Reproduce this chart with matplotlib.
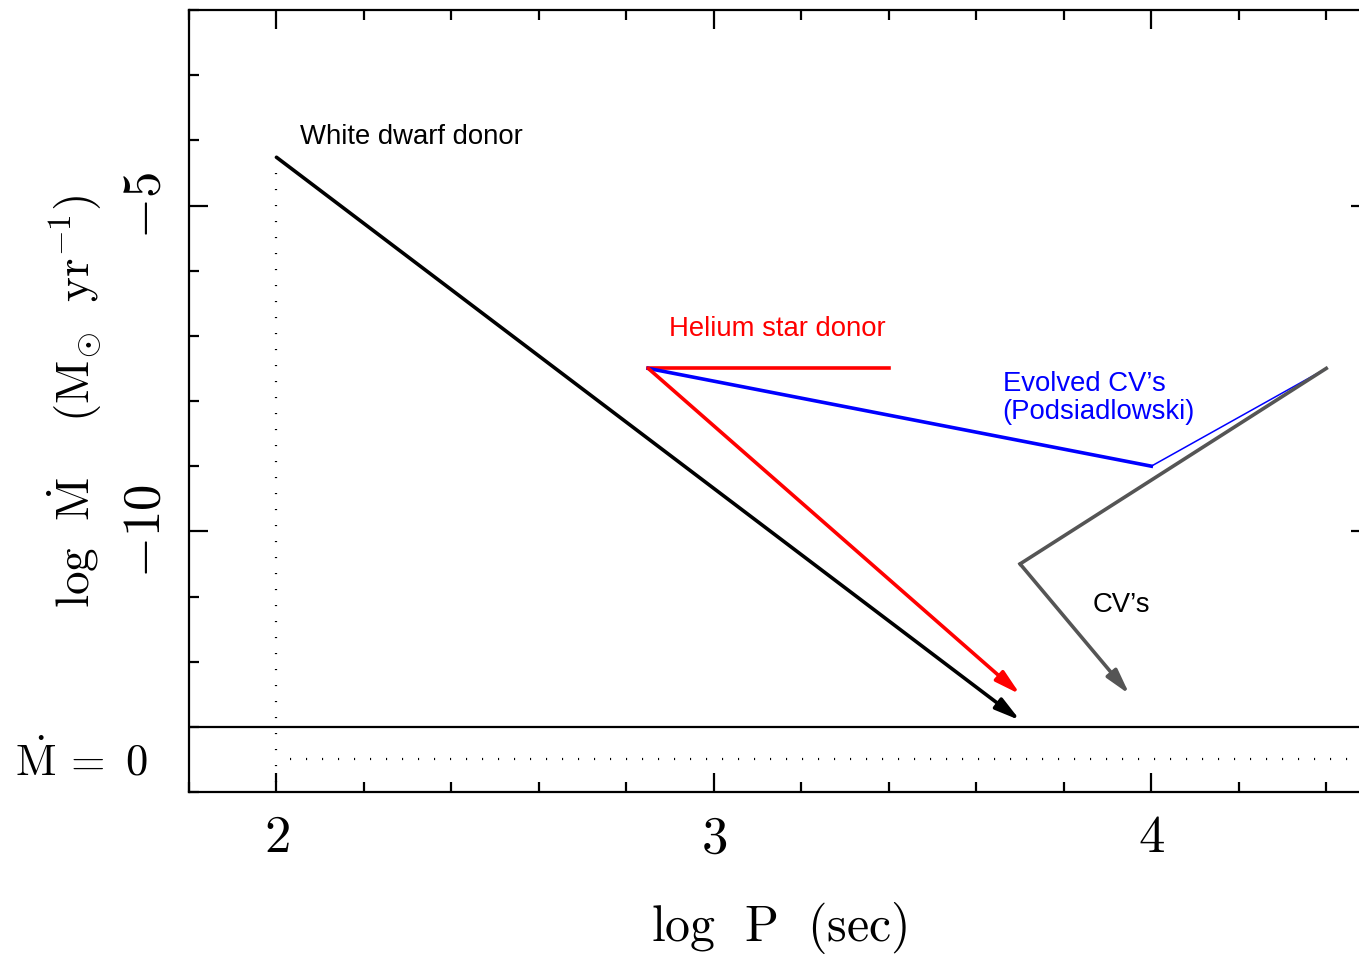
"""
Mdot vs orbital period sketch: evolutionary tracks for white dwarf donors,
helium star donors, evolved CVs and ordinary CVs.
"""

import matplotlib

matplotlib.use("Agg")
import matplotlib.pyplot as plt
from matplotlib.ticker import FixedLocator, MultipleLocator, FuncFormatter

plt.rcParams["mathtext.fontset"] = "cm"

# ----------------------------------------------------------------- dati
WD_P = [2.0, 3.70]
WD_MDOT = [-4.26, -12.9]

HE_FLAT_P = [2.85, 3.40]
HE_FLAT_MDOT = [-7.5, -7.5]
HE_ARROW_P = [2.85, 3.70]
HE_ARROW_MDOT = [-7.5, -12.5]

EVO_P = [2.85, 4.0, 4.4]
EVO_MDOT = [-7.5, -9.0, -7.5]

CV_P = [4.4, 3.70, 3.95]
CV_MDOT = [-7.5, -10.5, -12.5]

MDOT_ZERO_LINE = -13.0   # separatore "Mdot = 0"
MDOT_ZERO_DOTS = -13.5   # riga punteggiata Mdot = 0
P_MIN_DOTS = 2.0

X_MAJOR = [2, 3, 4]
Y_MAJOR = [-5, -10]

W, H, DPI = 1359, 960, 100
SANS = "Liberation Sans"
LW = 2.6
ARROW = "-|>,head_length=0.75,head_width=0.2"
DOTS = (0, (0.5, 6.7))


def arrow(ax, p, m, color, lw=LW):
    ax.annotate("", xy=(p[-1], m[-1]), xytext=(p[-2], m[-2]),
                arrowprops=dict(arrowstyle=ARROW, color=color, lw=lw,
                                shrinkA=0, shrinkB=0, mutation_scale=20))


def main() -> None:
    fig = plt.figure(figsize=(W / DPI, H / DPI), dpi=DPI)
    ax = fig.add_axes([189 / W, 1 - 792 / H, (1370 - 189) / W, 782 / H])
    ax.set_xlim(1.8, 4.5)
    ax.set_ylim(-14, -2)

    # white dwarf donor
    arrow(ax, WD_P, WD_MDOT, "black")
    ax.plot([WD_P[0], WD_P[0]], [WD_MDOT[0], -14], color="black", lw=1.6,
            ls=DOTS, dash_capstyle="butt")

    # helium star donor
    ax.plot(HE_FLAT_P, HE_FLAT_MDOT, color="red", lw=LW)
    arrow(ax, HE_ARROW_P, HE_ARROW_MDOT, "red")

    # evolved CVs: tratto spesso + tratto sottile
    ax.plot(EVO_P[:2], EVO_MDOT[:2], color="blue", lw=LW)
    ax.plot(EVO_P[1:], EVO_MDOT[1:], color="blue", lw=1.1)

    # CVs
    ax.plot(CV_P[:2], CV_MDOT[:2], color="#555555", lw=LW)
    arrow(ax, CV_P[1:], CV_MDOT[1:], "#555555")

    # Mdot = 0
    ax.axhline(MDOT_ZERO_LINE, color="black", lw=1.6)
    ax.plot([P_MIN_DOTS + 0.03, 4.5], [MDOT_ZERO_DOTS] * 2, color="black",
            lw=1.6, ls=DOTS, dash_capstyle="butt")

    # etichette
    ax.text(2.053, -4.05, "White dwarf donor", fontsize=19.8, family=SANS)
    ax.text(2.898, -7.0, "Helium star donor", fontsize=19.8, family=SANS, color="red")
    ax.text(3.66, -7.85, "Evolved CV\u2019s", fontsize=19.8, family=SANS, color="blue")
    ax.text(3.66, -8.27, "(Podsiadlowski)", fontsize=19.8, family=SANS, color="blue")
    ax.text(3.867, -11.24, "CV\u2019s", fontsize=19.8, family=SANS)

    # assi
    for s in ax.spines.values():
        s.set_linewidth(1.6)
    ax.spines["right"].set_visible(False)
    ax.xaxis.set_major_locator(FixedLocator(X_MAJOR))
    ax.xaxis.set_minor_locator(MultipleLocator(0.2))
    ax.yaxis.set_major_locator(FixedLocator(Y_MAJOR))
    ax.yaxis.set_minor_locator(MultipleLocator(1))
    ax.tick_params(which="both", direction="in", top=True, right=True, width=1.6)
    ax.tick_params(which="major", length=14)
    ax.tick_params(which="minor", length=7)
    ax.tick_params(axis="x", which="major", labelsize=38, pad=14)
    ax.tick_params(axis="y", which="major", labelsize=38, pad=13)
    fmt = FuncFormatter(lambda v, _: r"$%d$" % v if v >= 0 else r"$-%d$" % -v)
    ax.xaxis.set_major_formatter(fmt)
    ax.yaxis.set_major_formatter(fmt)
    for lab in ax.get_yticklabels():
        lab.set_rotation(90)
        lab.set_va("center")

    ax.set_xlabel(r"$\mathrm{log\ \ P\ \ (sec)}$", fontsize=36, labelpad=26)
    ax.set_ylabel(r"$\mathrm{log\ \ \dot{M}\ \ \ \ (M_{\odot}\ \ yr^{-1})}$",
                  fontsize=34, ha="center", va="center")
    ax.yaxis.set_label_coords((75 - 189) / (1370 - 189), 0.5)

    fig.text(15 / W, 1 - 775 / H, r"$\mathrm{\dot{M}\,=\ 0}$", fontsize=32,
             ha="left", va="baseline")

    fig.savefig("out.png", dpi=DPI)


if __name__ == "__main__":
    main()
